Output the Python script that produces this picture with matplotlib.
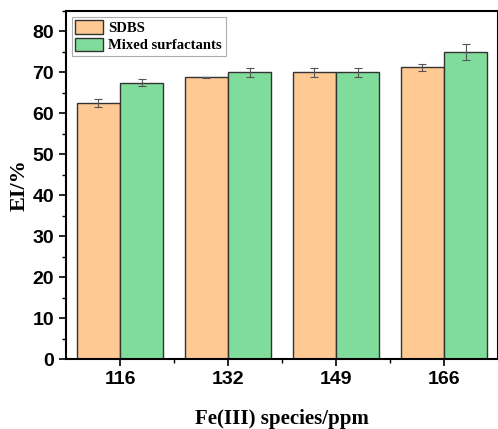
import matplotlib
matplotlib.use("Agg")
import matplotlib.pyplot as plt
import numpy as np
from matplotlib.ticker import MultipleLocator, FixedLocator

categories = ["116", "132", "149", "166"]
sdbs = [62.5, 68.8, 70.0, 71.2]
sdbs_err = [1.0, 0.1, 1.0, 0.9]
mixed = [67.5, 70.0, 70.0, 75.0]
mixed_err = [0.9, 1.0, 1.0, 2.0]

fig = plt.figure(figsize=(4.98, 4.29), dpi=100)
ax = fig.add_axes([66/498, 70/429, 432/498, 348/429])

x = np.arange(len(categories))
w = 0.4
ekw = dict(ecolor="#555555", elinewidth=0.8, capsize=3, capthick=0.8)
ax.bar(x - w/2, sdbs, w, yerr=sdbs_err, color="#FFC994", edgecolor="#333333",
       linewidth=1.0, label="SDBS", error_kw=ekw)
ax.bar(x + w/2, mixed, w, yerr=mixed_err, color="#80DC9B", edgecolor="#333333",
       linewidth=1.0, label="Mixed surfactants", error_kw=ekw)

ax.set_xlim(-0.5, 3.5)
ax.set_ylim(0, 85)
ax.set_xticks(x)
ax.set_xticklabels(categories)
ax.xaxis.set_minor_locator(FixedLocator([0.5, 1.5, 2.5]))
ax.set_yticks(np.arange(0, 81, 10))
ax.yaxis.set_minor_locator(MultipleLocator(5))

for s in ax.spines.values():
    s.set_linewidth(1.5)
ax.tick_params(which="major", direction="out", length=5, width=1.2)
ax.tick_params(which="minor", direction="out", length=3, width=1.0)
for lab in ax.get_xticklabels() + ax.get_yticklabels():
    lab.set_fontfamily("Liberation Sans")
    lab.set_fontweight("bold")
    lab.set_fontsize(14)

ax.set_xlabel("Fe(III) species/ppm", fontfamily="Liberation Serif",
              fontweight="bold", fontsize=15, labelpad=15)
ax.set_ylabel("EI/%", fontfamily="Liberation Serif", fontweight="bold",
              fontsize=16, labelpad=2)

leg = ax.legend(loc="upper left", prop=dict(family="Liberation Serif", weight="bold", size=10.5),
                frameon=True, fancybox=False, edgecolor="#999999",
                handlelength=1.9, handleheight=1.0, borderpad=0.25,
                labelspacing=0.2, handletextpad=0.35, borderaxespad=0.4)
leg.get_frame().set_linewidth(0.8)

fig.savefig("out.png", dpi=100)
